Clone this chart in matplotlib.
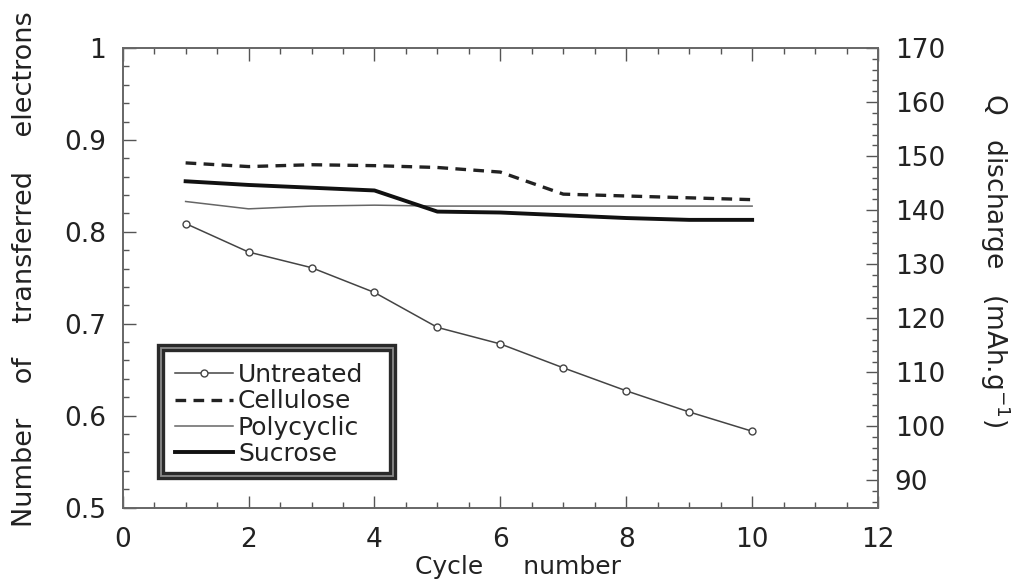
import matplotlib
matplotlib.use("Agg")
import matplotlib.pyplot as plt
from matplotlib.ticker import MultipleLocator, FixedLocator
from matplotlib.patches import Rectangle

plt.rcParams['font.family'] = ['DejaVu Sans']

cycles = [1, 2, 3, 4, 5, 6, 7, 8, 9, 10]
untreated = [0.809, 0.778, 0.761, 0.734, 0.696, 0.678, 0.652, 0.627, 0.604, 0.583]
cellulose = [0.875, 0.871, 0.873, 0.872, 0.870, 0.865, 0.841, 0.839, 0.837, 0.835]
polycyclic = [0.833, 0.825, 0.828, 0.829, 0.828, 0.828, 0.828, 0.828, 0.828, 0.828]
sucrose = [0.855, 0.851, 0.848, 0.845, 0.822, 0.821, 0.818, 0.815, 0.813, 0.813]

x_ticks = [0, 2, 4, 6, 8, 10, 12]
left_ticks = [0.5, 0.6, 0.7, 0.8, 0.9, 1.0]
left_labels = ['0.5', '0.6', '0.7', '0.8', '0.9', '1']
right_ticks = [90, 100, 110, 120, 130, 140, 150, 160, 170]

fig = plt.figure(figsize=(10.18, 5.87), dpi=100)
ax = fig.add_axes([0.1205, 0.1354, 0.742, 0.7828])

ink = '#222222'
ax.plot(cycles, untreated, color='#444444', lw=1.1, marker='o', ms=5,
        mfc='white', mec='#444444', mew=1.0, label='Untreated')
ax.plot(cycles, cellulose, color='#222222', lw=2.4, dashes=(3.2, 2.2),
        label='Cellulose')
ax.plot(cycles, polycyclic, color='#666666', lw=1.1, label='Polycyclic')
ax.plot(cycles, sucrose, color='#111111', lw=2.8, label='Sucrose')

ax.set_xlim(0, 12)
ax.set_ylim(0.5, 1.0)
ax.xaxis.set_major_locator(FixedLocator(x_ticks))
ax.xaxis.set_minor_locator(MultipleLocator(0.5))
ax.yaxis.set_major_locator(FixedLocator(left_ticks))
ax.set_yticklabels(left_labels)
ax.yaxis.set_minor_locator(MultipleLocator(0.02))

ax.tick_params(axis='x', which='both', direction='in', top=True, bottom=True,
               colors='#555555', labelcolor=ink, labelsize=19, pad=14)
ax.tick_params(axis='y', which='both', direction='in', left=True, right=False,
               colors='#555555', labelcolor=ink, labelsize=19, pad=12)
ax.tick_params(which='major', length=9, width=1)
ax.tick_params(which='minor', length=4.5, width=1)
for s in ax.spines.values():
    s.set_color('#666666')
    s.set_linewidth(1.2)

ax2 = ax.twinx()
ax2.set_ylim(85, 170)
ax2.yaxis.set_major_locator(FixedLocator(right_ticks))
ax2.yaxis.set_minor_locator(MultipleLocator(2))
ax2.tick_params(axis='y', which='both', direction='in', colors='#555555',
                labelcolor=ink, labelsize=19, pad=12)
ax2.tick_params(which='major', length=9, width=1)
ax2.tick_params(which='minor', length=4.5, width=1)
for s in ax2.spines.values():
    s.set_color('#666666')
    s.set_linewidth(1.2)

# axis titles
ax.set_xlabel('Cycle     number', fontsize=18, color=ink, va='center')
ax.xaxis.set_label_coords(0.524, -0.1295)
ax.set_ylabel('Number    of    transferred    electrons', fontsize=19.5,
              color=ink, va='center')
ax.yaxis.set_label_coords(-0.129, 0.519)
ax2.set_ylabel('Q   discharge   (mAh.g$^{-1}$)', fontsize=19, color=ink,
               rotation=270, va='center')
ax2.yaxis.set_label_coords(1.155, 0.538)

# legend entries without frame; the boxed frame is drawn separately
leg = ax.legend(loc='upper left', bbox_to_anchor=(0.0692, 0.314), fontsize=18,
                frameon=False, handlelength=2.32, handletextpad=0.2,
                borderpad=0, labelspacing=0.09, borderaxespad=0)
for t in leg.get_texts():
    t.set_color(ink)

# double-line legend frame
fx, fy, fw, fh = 0.0514, 0.0686, 0.306, 0.2786
ax.add_patch(Rectangle((fx, fy), fw, fh, transform=ax.transAxes, fill=False,
                       ec='#2a2a2a', lw=6, zorder=5, clip_on=False))
ax.add_patch(Rectangle((fx, fy), fw, fh, transform=ax.transAxes, fill=False,
                       ec='#8a8a8a', lw=1.3, zorder=6, clip_on=False))

fig.savefig('out.png', dpi=100)
